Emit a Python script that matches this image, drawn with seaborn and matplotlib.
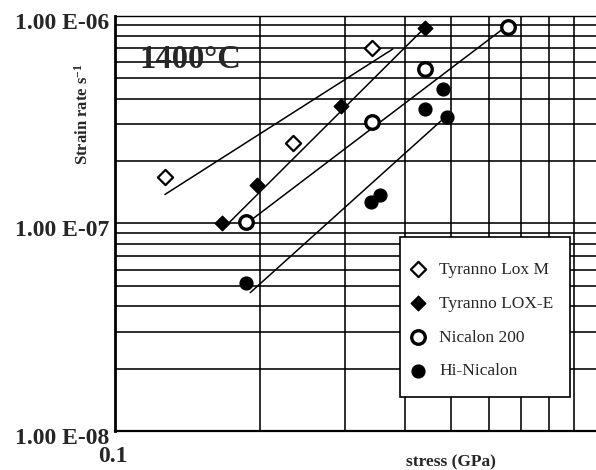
import numpy as np
import pandas as pd
import matplotlib
matplotlib.use("Agg")
import matplotlib.pyplot as plt
import matplotlib.transforms as mtransforms
from matplotlib.patches import Rectangle
from matplotlib.ticker import FixedLocator, LogLocator, NullFormatter
import seaborn as sns

# ---------------- data ----------------
series_names = ["Tyranno Lox M", "Tyranno LOX-E", "Nicalon 200", "Hi-Nicalon"]

loxm_stress = [0.127, 0.234, 0.342]
loxm_rate = [1.68e-7, 2.45e-7, 7.0e-7]

loxe_stress = [0.167, 0.197, 0.295, 0.442]
loxe_rate = [1.0e-7, 1.53e-7, 3.68e-7, 8.78e-7]

nic_stress = [0.1875, 0.342, 0.440, 0.655]
nic_rate = [1.02e-7, 3.07e-7, 5.55e-7, 8.89e-7]

hinic_stress = [0.187, 0.341, 0.355, 0.4405, 0.480, 0.491]
hinic_rate = [5.18e-8, 1.27e-7, 1.37e-7, 3.56e-7, 4.45e-7, 3.25e-7]

# fitted trend lines (end points)
loxm_fit_stress = [0.127, 0.378]
loxm_fit_rate = [1.38e-7, 6.93e-7]
loxe_fit_stress = [0.168, 0.443]
loxe_fit_rate = [9.48e-8, 8.89e-7]
nic_fit_stress = [0.193, 0.644]
nic_fit_rate = [1.05e-7, 8.75e-7]
hinic_fit_stress = [0.191, 0.476]
hinic_fit_rate = [4.64e-8, 3.12e-7]

y_tick_values = [1e-8, 1e-7, 1e-6]
y_tick_labels = ["1.00 E-08", "1.00 E-07", "1.00 E-06"]
x_tick_values = [0.1]
x_tick_labels = ["0.1"]
title_text = "1400°C"
x_label = "stress (GPa)"
y_label = "Strain rate s$^{-1}$"

# ---------------- style ----------------
sns.set_theme(style="white")
plt.rcParams["font.family"] = ["Liberation Serif", "DejaVu Serif"]
plt.rcParams["mathtext.fontset"] = "custom"
plt.rcParams["mathtext.rm"] = "Liberation Serif"
plt.rcParams["mathtext.bf"] = "Liberation Serif:bold"
plt.rcParams["mathtext.default"] = "bf"

fig = plt.figure(figsize=(5.96, 4.70), dpi=100)
ax = fig.add_axes([0.193, 0.083, 0.807, 0.883])
ax.set_xscale("log")
ax.set_yscale("log")

# fit lines
for fx, fy in [(loxm_fit_stress, loxm_fit_rate), (loxe_fit_stress, loxe_fit_rate),
               (nic_fit_stress, nic_fit_rate), (hinic_fit_stress, hinic_fit_rate)]:
    sns.lineplot(x=fx, y=fy, ax=ax, color="black", linewidth=1.1, zorder=3)

# markers
marker_specs = [
    (loxm_stress, loxm_rate, "D", "white", 1.6, 60),
    (loxe_stress, loxe_rate, "D", "black", 1.0, 55),
    (nic_stress, nic_rate, "o", "white", 2.4, 95),
    (hinic_stress, hinic_rate, "o", "black", 1.0, 85),
]
for name, (sx, sy, m, fc, lw, s) in zip(series_names, marker_specs):
    sns.scatterplot(x=sx, y=sy, ax=ax, marker=m, s=s, facecolor=fc,
                    edgecolor="black", linewidth=lw, zorder=5, label=name)

ax.set_xlim(0.1, 1.0)
ax.set_ylim(1e-8, 1e-6)

# grid
ax.xaxis.set_major_locator(FixedLocator(x_tick_values))
ax.xaxis.set_minor_locator(LogLocator(base=10, subs=np.arange(2, 10)))
ax.yaxis.set_major_locator(FixedLocator(y_tick_values))
ax.yaxis.set_minor_locator(LogLocator(base=10, subs=np.arange(2, 10)))
ax.xaxis.set_minor_formatter(NullFormatter())
ax.yaxis.set_minor_formatter(NullFormatter())
ax.set_xticklabels(x_tick_labels)
ax.set_yticklabels(y_tick_labels)
ax.grid(which="both", color="black", linewidth=1.15)
ax.tick_params(which="both", length=0)
ax.tick_params(axis="y", pad=4, labelsize=17)
ax.tick_params(axis="x", pad=11, labelsize=17)
for lab in ax.get_yticklabels() + ax.get_xticklabels():
    lab.set_fontweight("bold")
offset = mtransforms.ScaledTranslation(0, -5 / 100, fig.dpi_scale_trans)
for lab in ax.get_yticklabels():
    lab.set_transform(lab.get_transform() + offset)
xoff = mtransforms.ScaledTranslation(-2 / 100, 0, fig.dpi_scale_trans)
for lab in ax.get_xticklabels():
    lab.set_transform(lab.get_transform() + xoff)

ax.spines["right"].set_visible(False)
ax.spines["left"].set_linewidth(2.0)
ax.spines["bottom"].set_linewidth(1.6)
ax.spines["top"].set_linewidth(1.0)
for sp in ax.spines.values():
    sp.set_color("black")

ax.set_xlabel("")
ax.set_ylabel("")
fig.text(451 / 596, 1 - 462 / 470, x_label, ha="center", va="center",
         fontsize=12.5, fontweight="bold")
fig.text(83 / 596, 1 - 114 / 470, y_label, ha="center", va="center",
         rotation=90, fontsize=12, fontweight="bold")
fig.text(190 / 596, 1 - 60 / 470, title_text, ha="center", va="center",
         fontsize=23.5, fontweight="bold")

# legend box (frame) and legend entries
box = Rectangle((0.593, 0.0827), 0.353, 0.385, transform=ax.transAxes,
                facecolor="white", edgecolor="black", linewidth=1.2, zorder=9)
ax.add_patch(box)
handles, labels = ax.get_legend_handles_labels()
leg = ax.legend(handles, labels, loc="upper left", bbox_to_anchor=(0.616, 0.408),
                frameon=False, fontsize=12.5, labelspacing=1.02, borderpad=0,
                handlelength=0.8, handletextpad=0.8, borderaxespad=0)
leg.set_zorder(10)

fig.savefig("out.png", dpi=100)
